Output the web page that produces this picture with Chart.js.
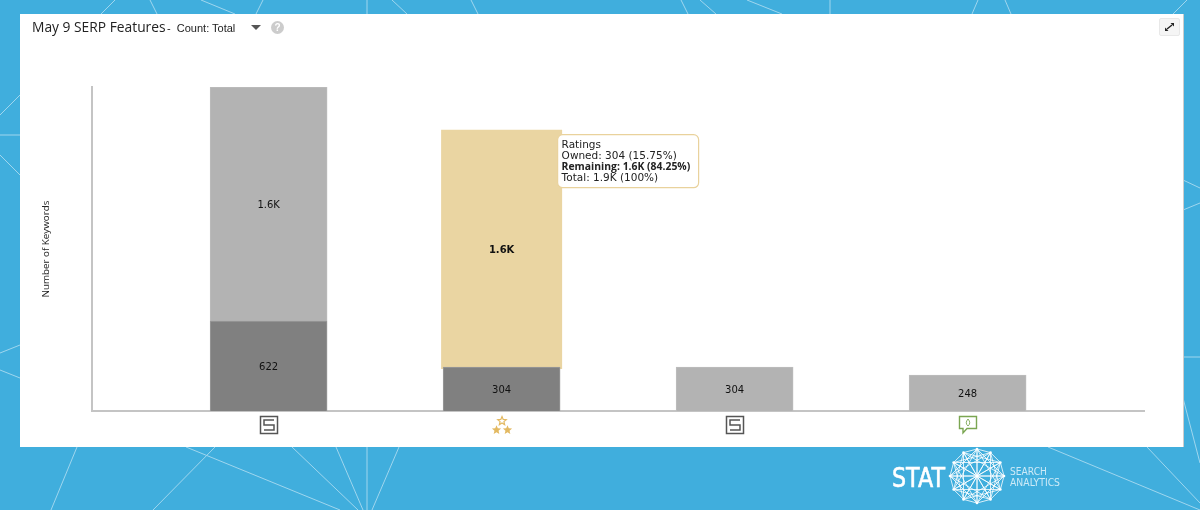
<!DOCTYPE html>
<html lang="en">
<head>
  <meta charset="UTF-8" />
  <title>May 9 SERP Features</title>
  <script src="https://cdn.jsdelivr.net/npm/chart.js"></script>
  <style>
    html, body { margin: 0; height: 100%; overflow: hidden; background: #40aedd; }
    body { position: relative; width: 1200px; height: 510px; font-family: "DejaVu Sans", sans-serif; }
    #bg, #logo { position: absolute; left: 0; top: 0; }
    .card { position: absolute; left: 20px; top: 14px; width: 1163px; height: 433px; background: #fff; box-shadow: 1px 0 0 #ccc; }
    .card canvas { position: absolute; left: 0; top: 0; }
    .title { position: absolute; left: 12px; top: 4px; font: 13.8px/18px "Open Sans", sans-serif; color: #222; white-space: nowrap; }
    .count { position: absolute; left: 147px; top: 6px; font: 11px/16px "Liberation Sans", sans-serif; color: #222; white-space: nowrap; }
    .caret { position: absolute; left: 231px; top: 11px; border-style: solid; border-width: 5px 5px 0; border-color: #555 transparent transparent; }
    .help { position: absolute; left: 251px; top: 7px; width: 13px; height: 13px; border-radius: 50%; background: #ccc; color: #fff; font: bold 10px/13px "Liberation Sans", sans-serif; text-align: center; }
    .expand { position: absolute; left: 1139px; top: 4px; width: 21px; height: 18px; background: #f5f5f5; border: 1px solid #e8e8e8; border-radius: 2px; box-sizing: border-box; }
  </style>
</head>
<body>
  <svg id="bg" width="1200" height="510" stroke="#9fd6ee" stroke-width="1" fill="none"></svg>
  <div class="card">
    <canvas id="chart" width="1163" height="433" style="width:1163px;height:433px"></canvas>
    <div class="title">May 9 SERP Features</div>
    <div class="count">- &nbsp;Count: Total</div>
    <div class="caret"></div>
    <div class="help">?</div>
    <div class="expand">
      <svg width="19" height="16" viewBox="0 0 19 16" stroke="#222" fill="#222">
        <path d="M7 10 L12 6" stroke-width="1.4"/>
        <path d="M10.5 4 H14 V7.5 Z M5 8.5 V12 H8.5 Z" stroke="none"/>
      </svg>
    </div>
  </div>
  <svg id="logo" width="1200" height="510">
    <g id="mesh" stroke="#fff" stroke-width="0.8" fill="none"></g>
    <text x="892" y="487" font-family="DejaVu Sans" font-size="27" fill="#fff" stroke="#fff" stroke-width="0.6" textLength="53" lengthAdjust="spacingAndGlyphs">STAT</text>
    <text x="1010" y="475" font-family="DejaVu Sans" font-size="10" fill="#cdeaf7" textLength="37" lengthAdjust="spacingAndGlyphs">SEARCH</text>
    <text x="1010" y="486" font-family="DejaVu Sans" font-size="10" fill="#cdeaf7" textLength="50" lengthAdjust="spacingAndGlyphs">ANALYTICS</text>
  </svg>

  <script>
    const categories = ['Site Links', 'Ratings', 'Site Links', 'Reviews'];
    const iconKinds = ['serp', 'stars', 'serp', 'comment'];
    const ownedValues = [622, 304, 304, 248];
    const remainingValues = [1617, null, null, null];
    const hoverRemainingValues = [null, 1626, null, null];
    const yMax = 2239;

    // background lines, just decoration behind the card
    const bgLines = [
      [115,0,101,14],[150,0,157,14],[201,0,235,14],[263,0,256,14],[367,0,367,14],[392,0,407,14],[471,0,478,14],
      [681,0,688,14],[700,0,716,14],[747,0,782,14],[830,0,830,14],[978,0,972,14],[1005,0,1011,14],[1187,0,1173,14],
      [77,447,51,510],[186,447,340,510],[215,447,153,510],[292,447,358,510],[336,447,363,510],[367,447,367,510],[399,447,372,510],
      [1048,447,1200,510],[1147,447,1200,503],[1183,398,1200,463],
      [0,115,20,95],[0,135,20,135],[0,155,20,175],[0,353,20,345],[0,370,20,378],
      [1183,180,1200,188],[1183,210,1200,203],[1183,357,1200,357]
    ];
    document.getElementById('bg').innerHTML = bgLines.map(l =>
      `<line x1="${l[0]}" y1="${l[1]}" x2="${l[2]}" y2="${l[3]}"/>`).join('');

    // logo ball: every point of a 12-gon joined to the others
    let mesh = '';
    const pts = [];
    for (let i = 0; i < 12; i++) {
      const a = Math.PI * 2 * i / 12 - Math.PI / 2;
      pts.push([977 + 27 * Math.cos(a), 476 + 27 * Math.sin(a)]);
    }
    pts.forEach((p, i) => {
      [1, 3, 4, 6].forEach(step => {
        const q = pts[(i + step) % 12];
        mesh += `<line x1="${p[0]}" y1="${p[1]}" x2="${q[0]}" y2="${q[1]}"/>`;
      });
      mesh += `<circle cx="${p[0]}" cy="${p[1]}" r="1.3" fill="#fff" stroke="none"/>`;
    });
    document.getElementById('mesh').innerHTML = mesh;

    const short = v => v >= 1000 ? (v / 1000).toFixed(1) + 'K' : String(v);
    const toPoints = arr => arr.map((v, i) => ({ x: i, y: v }));
    const hoverIndex = hoverRemainingValues.findIndex(v => v !== null);

    function star(ctx, cx, cy, r, filled) {
      ctx.beginPath();
      for (let i = 0; i < 10; i++) {
        const rad = i % 2 ? r * 0.45 : r;
        const a = -Math.PI / 2 + i * Math.PI / 5;
        ctx.lineTo(cx + rad * Math.cos(a), cy + rad * Math.sin(a));
      }
      ctx.closePath();
      if (filled) ctx.fill(); else ctx.stroke();
    }

    function drawIcon(ctx, kind, x, y) {
      ctx.save();
      ctx.translate(Math.round(x), y);
      if (kind === 'serp') {
        ctx.strokeStyle = '#555';
        ctx.lineWidth = 1.5;
        ctx.strokeRect(-8.5, 0.5, 17, 17);
        ctx.beginPath();
        ctx.moveTo(5, 4); ctx.lineTo(-5, 4); ctx.lineTo(-5, 9);
        ctx.lineTo(5, 9); ctx.lineTo(5, 14); ctx.lineTo(-5, 14);
        ctx.stroke();
      } else if (kind === 'stars') {
        ctx.fillStyle = '#e3b961';
        ctx.strokeStyle = '#e3b961';
        ctx.lineWidth = 1.2;
        star(ctx, 0, 5, 4.5, false);
        star(ctx, -5.5, 14, 4.8, true);
        star(ctx, 5.5, 14, 4.8, true);
      } else {
        ctx.strokeStyle = '#7ba652';
        ctx.lineWidth = 1.4;
        ctx.beginPath();
        ctx.moveTo(-8.5, 0.5); ctx.lineTo(8.5, 0.5); ctx.lineTo(8.5, 12.5);
        ctx.lineTo(-1, 12.5); ctx.lineTo(-5, 17); ctx.lineTo(-5, 12.5);
        ctx.lineTo(-8.5, 12.5); ctx.closePath();
        ctx.stroke();
        ctx.lineWidth = 0.9;
        ctx.beginPath();
        ctx.moveTo(0, 3); ctx.quadraticCurveTo(-3.5, 7, 0, 10); ctx.quadraticCurveTo(3.5, 7, 0, 3);
        ctx.stroke();
      }
      ctx.restore();
    }

    const iconAxis = {
      id: 'iconAxis',
      afterDraw(chart) {
        const sx = chart.scales.x;
        iconKinds.forEach((kind, i) => drawIcon(chart.ctx, kind, sx.getPixelForValue(i), chart.chartArea.bottom + 5));
      }
    };

    const barLabels = {
      id: 'barLabels',
      afterDatasetsDraw(chart) {
        const ctx = chart.ctx;
        ctx.save();
        ctx.textAlign = 'center';
        ctx.textBaseline = 'middle';
        ctx.fillStyle = '#111';
        chart.data.datasets.forEach((ds, d) => {
          chart.getDatasetMeta(d).data.forEach((el, i) => {
            const v = ds.data[i].y;
            if (v === null) return;
            ctx.font = (d === 2 ? 'bold ' : '') + '10px "DejaVu Sans"';
            ctx.fillText(short(v), el.x, (el.y + el.base) / 2 + 1);
          });
        });
        ctx.restore();
      }
    };

    const hoverBox = {
      id: 'hoverBox',
      afterDraw(chart) {
        const ctx = chart.ctx;
        const el = chart.getDatasetMeta(2).data[hoverIndex];
        const owned = ownedValues[hoverIndex];
        const rest = hoverRemainingValues[hoverIndex];
        const total = owned + rest;
        const x = el.x + 55.5, y = el.y + 2.5, w = 141, h = 53;
        const lines = [
          [categories[hoverIndex], false],
          [`Owned: ${short(owned)} (${(owned / total * 100).toFixed(2)}%)`, false],
          [`Remaining: ${short(rest)} (${(rest / total * 100).toFixed(2)}%)`, true],
          [`Total: ${short(total)} (100%)`, false]
        ];
        ctx.save();
        ctx.beginPath();
        ctx.roundRect(x + 0.5, y + 0.5, w, h, 5);
        ctx.fillStyle = 'rgba(255,255,255,0.97)';
        ctx.fill();
        ctx.strokeStyle = '#e9d29c';
        ctx.lineWidth = 1.2;
        ctx.stroke();
        ctx.fillStyle = '#222';
        ctx.textBaseline = 'middle';
        lines.forEach((l, i) => {
          ctx.font = l[1] ? 'bold 10.4px "Open Sans"' : '10.5px "DejaVu Sans"';
          ctx.fillText(l[0], x + 4.5, y + 11 + i * 11);
        });
        ctx.restore();
      }
    };

    new Chart(document.getElementById('chart'), {
      type: 'bar',
      data: {
        datasets: [
          {
            label: 'Owned',
            data: toPoints(ownedValues),
            backgroundColor: remainingValues.map((v, i) => (v !== null || hoverRemainingValues[i] !== null) ? '#808080' : '#b3b3b3'),
            borderColor: remainingValues.map((v, i) => (v !== null || hoverRemainingValues[i] !== null) ? '#9a9a9a' : '#bdbdbd'),
            borderWidth: 1,
            barThickness: 117
          },
          {
            label: 'Remaining',
            data: toPoints(remainingValues),
            backgroundColor: '#b3b3b3',
            borderColor: '#bdbdbd',
            borderWidth: 1,
            barThickness: 117
          },
          {
            label: 'Remaining (hover)',
            data: toPoints(hoverRemainingValues),
            backgroundColor: '#ead5a2',
            borderWidth: 0,
            inflateAmount: 2,
            barThickness: 117
          }
        ]
      },
      options: {
        responsive: false,
        animation: false,
        grouped: false,
        layout: { padding: { top: 73, right: 39, left: 20 } },
        plugins: { legend: { display: false }, tooltip: { enabled: false } },
        events: [],
        scales: {
          x: {
            type: 'linear',
            offset: false,
            min: -0.758,
            max: 3.757,
            grid: { display: false },
            border: { color: '#c4c4c4', width: 2 },
            ticks: { display: false },
            afterFit: s => { s.height = 36; }
          },
          y: {
            stacked: true,
            min: 0,
            max: yMax,
            grid: { display: false },
            border: { color: '#c4c4c4', width: 2 },
            ticks: { display: false },
            title: { display: true, text: 'Number of Keywords', color: '#222', font: { family: 'Open Sans', size: 9.8 }, padding: 0 },
            afterFit: s => { s.width = 52; }
          }
        }
      },
      plugins: [iconAxis, barLabels, hoverBox]
    });
  </script>
</body>
</html>
